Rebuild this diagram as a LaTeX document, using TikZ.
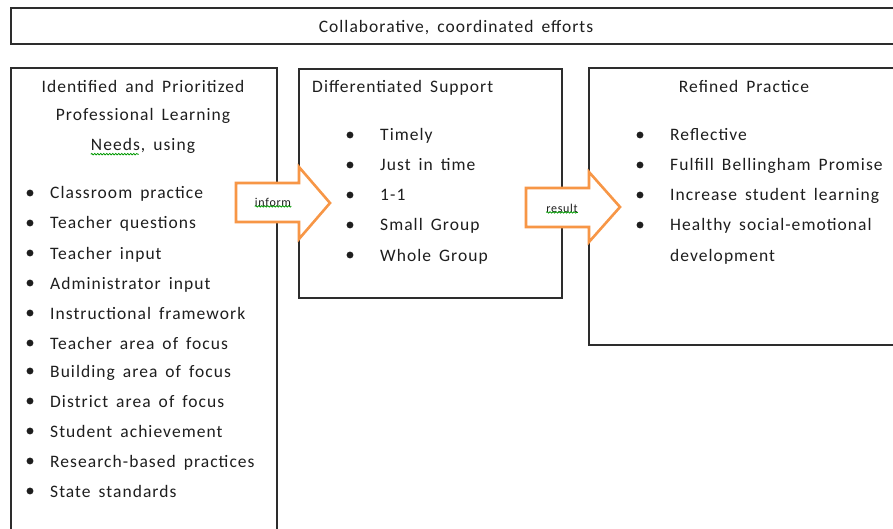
\documentclass[tikz,border=0pt]{standalone}
\usepackage{fontspec}
\setmainfont{Carlito}[LetterSpace=6, WordSpace=1.6]
\usetikzlibrary{decorations.pathmorphing}
\definecolor{arroworange}{RGB}{247,150,70}
\definecolor{boxgray}{RGB}{45,45,45}
\definecolor{inkgray}{RGB}{30,30,30}
\tikzset{
  box/.style={draw=boxgray, line width=1.6pt},
  txt/.style={inner sep=0pt, text height=14pt, text depth=2pt, font=\fontsize{17.5}{20}\selectfont, text=inkgray},
  item/.style={txt, anchor=west},
  small/.style={inner sep=0pt, font=\fontsize{12}{14}\selectfont, text=inkgray},
  blockarrow/.style={draw=arroworange, line width=2.6pt, fill=white, line join=miter},
  spell/.style={green!60!black, line width=0.8pt, decorate, decoration={snake, amplitude=0.7pt, segment length=3pt}},
}
\begin{document}
\begin{tikzpicture}[x=1pt, y=-1pt]
	\path[use as bounding box, clip] (0,0) rectangle (893,529);
	\fill[white] (0,0) rectangle (893,529);
	
	% top banner
	\draw[box] (11,8) rectangle (905,44);
	\node[txt] (collab) at (456,27) {Collaborative, coordinated efforts};
	
	% three boxes
	\draw[box] (11,68) rectangle (277,560);
	\draw[box] (299,69) rectangle (562,298);
	\draw[box] (589,68) rectangle (905,345);
	
	% left box
	\node[txt] (needs1) at (143,87) {Identified and Prioritized};
	\node[txt] (needs2) at (143,115) {Professional Learning};
	\node[txt] (needs3) at (143,145) {Needs, using};
	\draw[spell] (needs3.south west) ++(0,1) -- ++(48,0);
	\filldraw[inkgray] (30,193) circle (3.2pt); \node[item] (src1) at (50,193) {Classroom practice};
	\filldraw[inkgray] (30,223) circle (3.2pt); \node[item] (src2) at (50,223) {Teacher questions};
	\filldraw[inkgray] (30,253) circle (3.2pt); \node[item] (src3) at (50,253) {Teacher input};
	\filldraw[inkgray] (30,283) circle (3.2pt); \node[item] (src4) at (50,283) {Administrator input};
	\filldraw[inkgray] (30,313) circle (3.2pt); \node[item] (src5) at (50,313) {Instructional framework};
	\filldraw[inkgray] (30,343) circle (3.2pt); \node[item] (src6) at (50,343) {Teacher area of focus};
	\filldraw[inkgray] (30,371) circle (3.2pt); \node[item] (src7) at (50,371) {Building area of focus};
	\filldraw[inkgray] (30,401) circle (3.2pt); \node[item] (src8) at (50,401) {District area of focus};
	\filldraw[inkgray] (30,431) circle (3.2pt); \node[item] (src9) at (50,431) {Student achievement};
	\filldraw[inkgray] (30,461) circle (3.2pt); \node[item] (src10) at (50,461) {Research-based practices};
	\filldraw[inkgray] (30,491) circle (3.2pt); \node[item] (src11) at (50,491) {State standards};
	
	% middle box
	\node[item] (support) at (312,87) {Differentiated Support};
	\filldraw[inkgray] (350,135) circle (3.2pt); \node[item] (sup1) at (380,135) {Timely};
	\filldraw[inkgray] (350,165) circle (3.2pt); \node[item] (sup2) at (380,165) {Just in time};
	\filldraw[inkgray] (350,195) circle (3.2pt); \node[item] (sup3) at (380,195) {1-1};
	\filldraw[inkgray] (350,225) circle (3.2pt); \node[item] (sup4) at (380,225) {Small Group};
	\filldraw[inkgray] (350,255) circle (3.2pt); \node[item] (sup5) at (380,255) {Whole Group};
	
	% right box
	\node[txt] (practice) at (744,87) {Refined Practice};
	\filldraw[inkgray] (640,135) circle (3.2pt); \node[item] (res1) at (670,135) {Reflective};
	\filldraw[inkgray] (640,165) circle (3.2pt); \node[item] (res2) at (670,165) {Fulfill Bellingham Promise};
	\filldraw[inkgray] (640,195) circle (3.2pt); \node[item] (res3) at (670,195) {Increase student learning};
	\filldraw[inkgray] (640,225) circle (3.2pt); \node[item] (res4) at (670,225) {Healthy social-emotional};
	\node[item] (res4b) at (670,255) {development};
	
	% block arrows
	\draw[blockarrow] (236,183) -- (299,183) -- (299,167) -- (330,203) -- (299,239) -- (299,222) -- (236,222) -- cycle;
	\node[small] (inform) at (273,202) {inform};
	\draw[spell] (inform.south west) -- (inform.south east);
	\draw[blockarrow] (526,188) -- (589,188) -- (589,172) -- (620,207) -- (589,242) -- (589,227) -- (526,227) -- cycle;
	\node[small] (result) at (562,208) {result};
	\draw[spell] (result.south west) -- (result.south east);
\end{tikzpicture}
\end{document}
